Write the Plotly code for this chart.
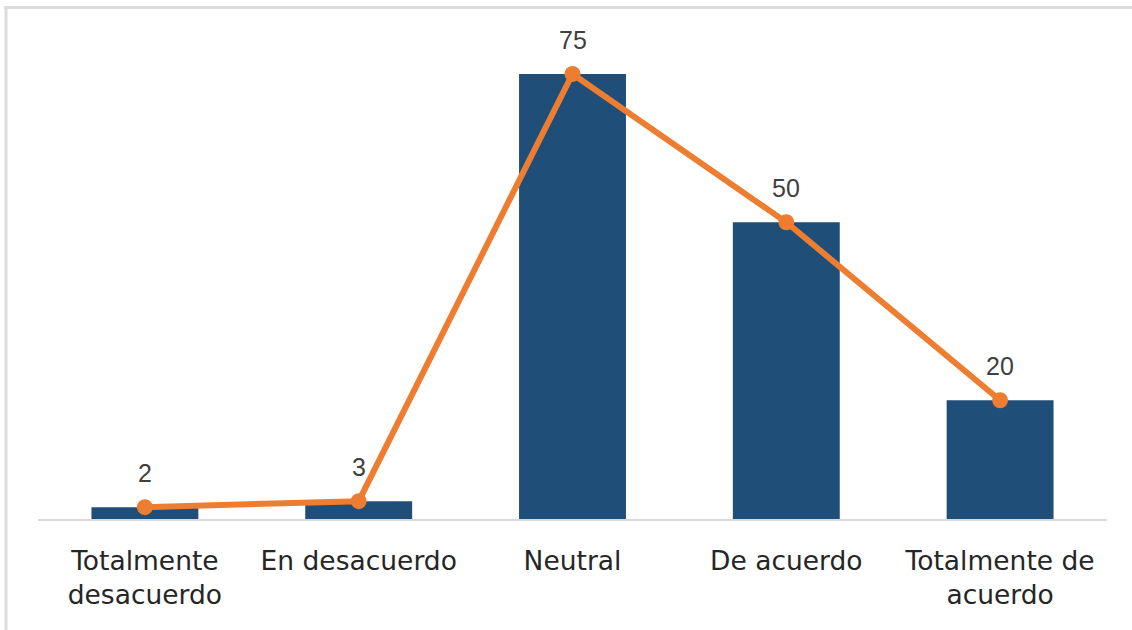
import plotly.graph_objects as go

# Survey responses per agreement level
categories = [
    "Totalmente<br>desacuerdo",
    "En desacuerdo",
    "Neutral",
    "De acuerdo",
    "Totalmente de<br>acuerdo",
]
counts = [2, 3, 75, 50, 20]
labels = [str(v) for v in counts]

W, H = 1132, 630
ML, MR, MT, MB = 38, 25, 30, 111
PW, PH = W - ML - MR, H - MT - MB
Y_MAX = 82.4

BAR_COLOR = "#1F4E79"
LINE_COLOR = "#ED7D31"
TEXT_COLOR = "#404040"
FRAME_COLOR = "#DCDCDC"


def px_x(px):
    return (px - ML) / PW


def px_y(py):
    return (H - MB - py) / PH


fig = go.Figure()

fig.add_trace(go.Bar(
    x=categories,
    y=counts,
    marker=dict(color=BAR_COLOR, line=dict(width=0)),
    hoverinfo="skip",
))

fig.add_trace(go.Scatter(
    x=categories,
    y=counts,
    mode="lines+markers",
    line=dict(color=LINE_COLOR, width=6),
    marker=dict(color=LINE_COLOR, size=16),
    cliponaxis=False,
))

# Value labels above each point of the line
for cat, val, lab in zip(categories, counts, labels):
    fig.add_annotation(
        x=cat, y=val, text=lab,
        showarrow=False,
        xanchor="center", yanchor="bottom",
        yshift=18,
        font=dict(family="Liberation Sans, Arial, sans-serif", size=25, color=TEXT_COLOR),
    )

# Light frame along the top and left edges
frame_shapes = [
    dict(type="line", xref="paper", yref="paper",
         x0=px_x(4), x1=px_x(W), y0=px_y(7.5), y1=px_y(7.5),
         line=dict(color=FRAME_COLOR, width=3)),
    dict(type="line", xref="paper", yref="paper",
         x0=px_x(6), x1=px_x(6), y0=px_y(6), y1=px_y(H),
         line=dict(color=FRAME_COLOR, width=3)),
]

fig.update_layout(
    width=W,
    height=H,
    margin=dict(l=ML, r=MR, t=MT, b=MB),
    paper_bgcolor="white",
    plot_bgcolor="white",
    showlegend=False,
    bargap=0.5,
    shapes=frame_shapes,
    font=dict(family="DejaVu Sans, sans-serif", color="#262626"),
)

fig.update_xaxes(
    showgrid=False,
    showline=True,
    linecolor="#D9D9D9",
    linewidth=2,
    ticks="",
    tickfont=dict(family="DejaVu Sans, sans-serif", size=26.5, color="#262626"),
    ticklabelstandoff=17,
)

fig.update_yaxes(
    range=[0, Y_MAX],
    showgrid=False,
    showline=False,
    zeroline=False,
    showticklabels=False,
    ticks="",
)

fig.write_html("out.html")
